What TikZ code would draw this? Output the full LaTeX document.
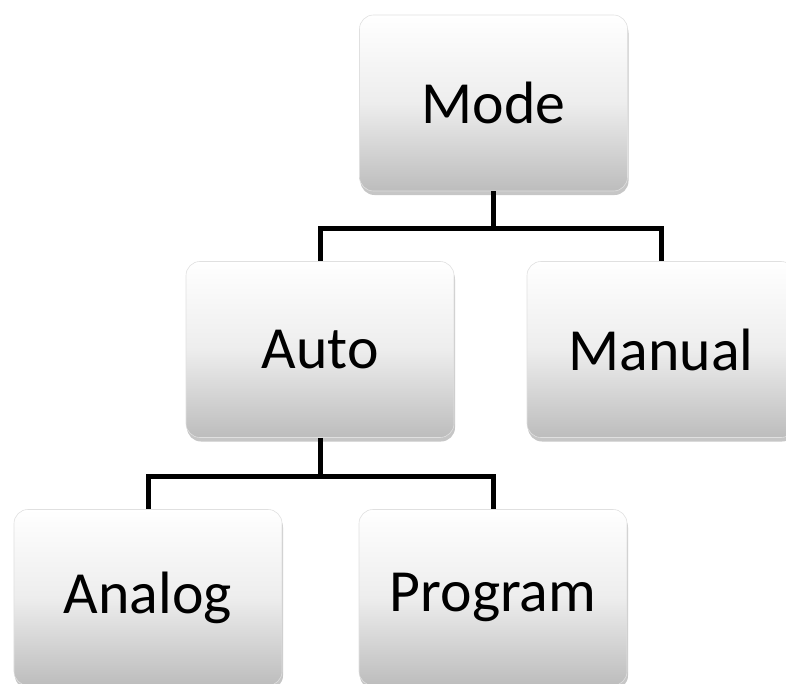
\documentclass[tikz,border=0pt]{standalone}
\usepackage{fontspec}
\setmainfont{Carlito}
\usetikzlibrary{shadows}
\begin{document}
\begin{tikzpicture}[x=1bp,y=-1bp,
  box/.style={rounded corners=14bp, minimum width=268bp, minimum height=176bp,
    top color=white, bottom color=black!26, middle color=black!7,
    draw=black!12, line width=0.6bp,
    drop shadow={shadow xshift=1bp, shadow yshift=-4bp, opacity=0.45},
    font=\fontsize{60}{72}\selectfont, text=black, inner sep=0pt},
  conn/.style={line width=5bp, black}]
\useasboundingbox (0,0) rectangle (786,684);
\clip (0,0) rectangle (786,684);
\node[box] (mode) at (493.5,103) {Mode};
\node[box] (auto) at (320,349.5) {Auto};
\node[box] (manual) at (661,349.5) {Manual};
\node[box] (analog) at (148,597.5) {Analog};
\node[box] (program) at (493,597.5) {Program};
\coordinate (j1) at (493.5,228);
\coordinate (j2) at (320,476);
\draw[conn] (mode.south) -- (j1);
\draw[conn] (j1) -| (auto.north);
\draw[conn] (j1) -| (manual.north);
\draw[conn] (auto.south) -- (j2);
\draw[conn] (j2) -| (analog.north);
\draw[conn] (j2) -| (program.north);
\end{tikzpicture}
\end{document}
